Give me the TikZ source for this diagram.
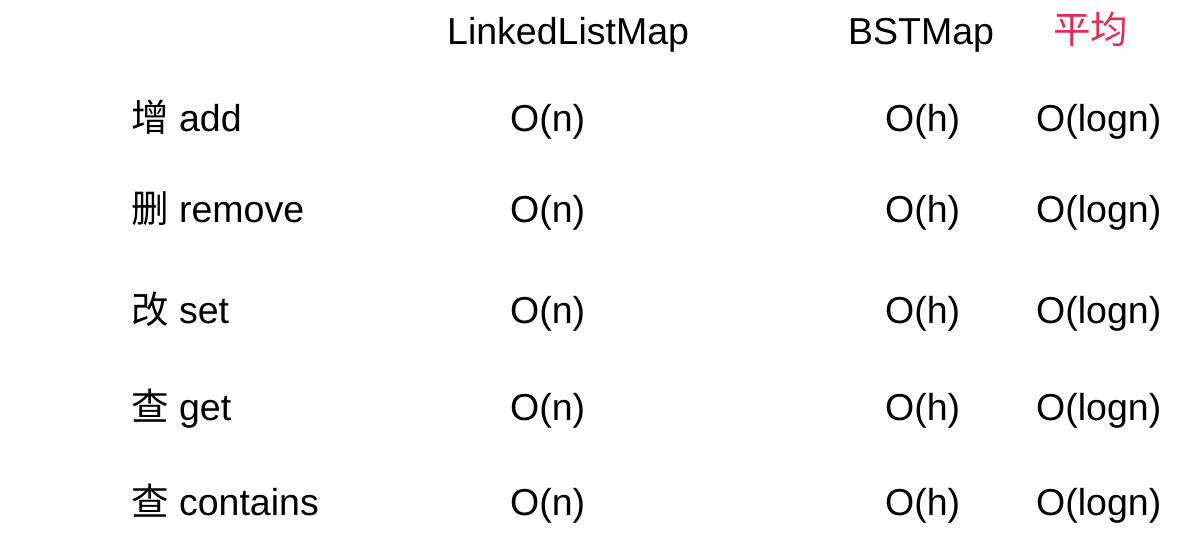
\documentclass[tikz,border=0pt]{standalone}
\usepackage{fontspec}
\setmainfont{Liberation Sans}
\newfontfamily\cjk{Noto Sans CJK SC}
\usetikzlibrary{positioning}
\definecolor{avgred}{RGB}{228, 44, 86}

\tikzset{
    cell/.style={anchor=base west, inner sep=0pt, font=\fontsize{37.5}{44}\selectfont},
    head/.style={cell},
}

\begin{document}
\begin{tikzpicture}[x=1pt, y=-1pt]
    \useasboundingbox[fill=white] (0,0) rectangle (1177,535);

    % column heads
    \node[head] (hlist) at (447,45) {LinkedListMap};
    \node[head] (hbst) at (848,45) {BSTMap};
    \node[head, text=avgred] (havg) at (1053,44) {\cjk 平均};

    % one row per operation
    \foreach \n/\y/\op/\name in {add/131/增/add, remove/222/删/remove, set/323/改/set, get/420/查/get, contains/515/查/contains} {
        \node[cell] (op-\n) at (131,\y) {{\cjk \op} \name};
        \node[cell] (list-\n) at (510,\y) {O(n)};
        \node[cell] (bst-\n) at (885,\y) {O(h)};
        \node[cell] (avg-\n) at (1036,\y) {O(logn)};
    }
\end{tikzpicture}
\end{document}
